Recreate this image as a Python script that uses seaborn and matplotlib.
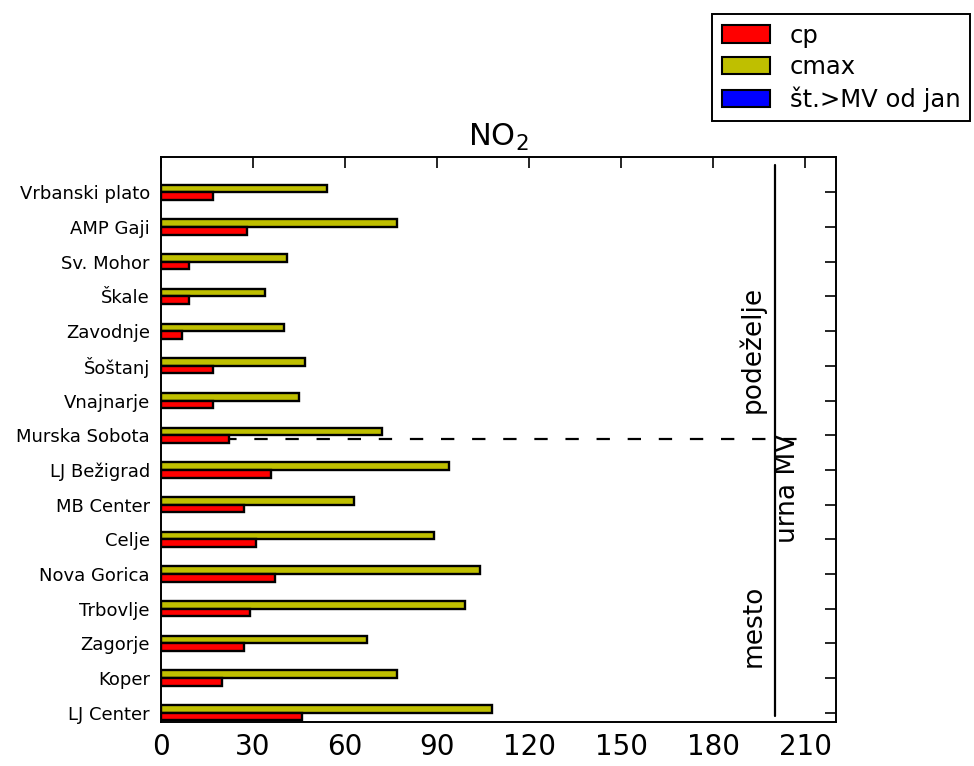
import matplotlib
matplotlib.use("Agg")
import matplotlib.pyplot as plt
from matplotlib.patches import Patch
import pandas as pd
import seaborn as sns

# postaje od zgoraj navzdol
postaje = ["Vrbanski plato", "AMP Gaji", "Sv. Mohor", "Škale", "Zavodnje",
           "Šoštanj", "Vnajnarje", "Murska Sobota", "LJ Bežigrad", "MB Center",
           "Celje", "Nova Gorica", "Trbovlje", "Zagorje", "Koper", "LJ Center"]
cp = [17, 28, 9, 9, 7, 17, 17, 22, 36, 27, 31, 37, 29, 27, 20, 46]
cmax = [54, 77, 41, 34, 40, 47, 45, 72, 94, 63, 89, 104, 99, 67, 77, 108]
x_ticks = [0, 30, 60, 90, 120, 150, 180, 210]
urna_mv = 200

df = pd.DataFrame({"postaja": postaje * 2,
                   "vrednost": cmax + cp,
                   "serija": ["cmax"] * len(postaje) + ["cp"] * len(postaje)})

sns.set_style("white")
plt.rcParams['font.family'] = ['DejaVu Sans']
plt.rcParams['text.color'] = 'black'
plt.rcParams['xtick.color'] = 'black'
plt.rcParams['ytick.color'] = 'black'
plt.rcParams['axes.labelcolor'] = 'black'

barve = {"cp": (1, 0, 0), "cmax": (0.75, 0.75, 0), "st": (0, 0, 1)}

fig = plt.figure(figsize=(9.74, 7.66), dpi=100)
ax = fig.add_axes([0.1653, 0.0574, 0.693, 0.7376])

# meja mesto / podezelje (pod stolpci)
ax.plot([0, 210], [7.12, 7.12], color="black", lw=1.6, dashes=(6, 8), zorder=0)

sns.barplot(data=df, y="postaja", x="vrednost", hue="serija",
            hue_order=["cmax", "cp"], order=postaje, orient="h",
            palette=barve, width=0.44, gap=0, edgecolor="black",
            linewidth=1.7, saturation=1, legend=False, ax=ax, zorder=2)

# urna mejna vrednost
ax.plot([urna_mv, urna_mv], [15.1, -0.79], color="black", lw=1.6, zorder=1)
ax.text(192.7, 4.52, "podeželje", rotation=90, ha="center", va="center", fontsize=19)
ax.text(193.3, 12.5, "mesto", rotation=90, ha="center", va="center", fontsize=19)
ax.text(204.3, 8.52, "urna MV", rotation=90, ha="center", va="center", fontsize=19)

ax.set_xlim(0, 220)
ax.set_ylim(15.27, -1.02)
ax.set_xticks(x_ticks)
ax.set_xlabel("")
ax.set_ylabel("")
ax.tick_params(axis="x", labelsize=20, pad=8)
ax.tick_params(axis="y", labelsize=13, pad=8)
ax.tick_params(direction="in", top=True, right=True, length=8, width=1.2,
               color="black", labelcolor="black")
for s in ax.spines.values():
    s.set_color("black")
    s.set_linewidth(1.4)

ax.set_title("NO$_2$", fontsize=22, pad=8, color="black")

# legenda zgoraj desno
handles = [Patch(facecolor=barve["cp"], edgecolor="black", linewidth=1.5, label="cp"),
           Patch(facecolor=barve["cmax"], edgecolor="black", linewidth=1.5, label="cmax"),
           Patch(facecolor=barve["st"], edgecolor="black", linewidth=1.5, label="št.>MV od jan")]
leg = fig.legend(handles=handles, loc="upper right", bbox_to_anchor=(0.996, 0.982),
                 fontsize=17.5, fancybox=False, framealpha=1, borderaxespad=0,
                 handlelength=2, labelspacing=0.3, borderpad=0.4)
leg.get_frame().set_edgecolor("black")
leg.get_frame().set_linewidth(1.4)

fig.savefig("out.png", dpi=100)
